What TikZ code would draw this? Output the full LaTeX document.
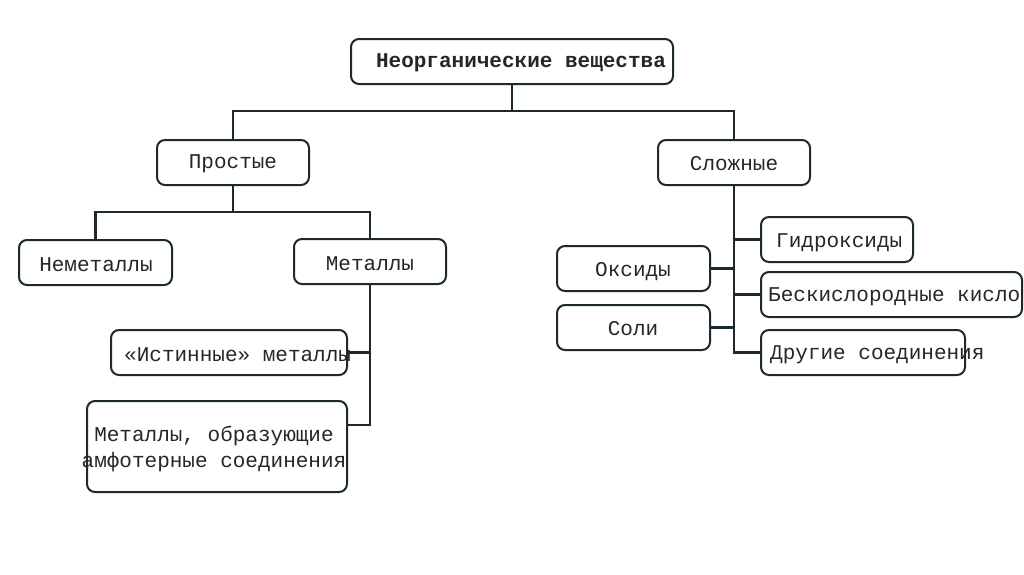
\documentclass[tikz,border=0pt]{standalone}
\usepackage{fontspec}
\setmainfont{Liberation Mono}
\definecolor{ln}{HTML}{1C2A30}
\tikzset{
 box/.style={draw=ln, line width=2pt, rounded corners=8pt, fill=white, anchor=north west, inner sep=0pt, outer sep=0pt},
 conn/.style={draw=ln, line width=2.2pt},
 lbl/.style={font=\fontsize{21}{26}\selectfont, text=black!85, inner sep=0pt, align=center},
}
\begin{document}
\begin{tikzpicture}[x=1pt,y=-1pt]
\useasboundingbox (0,0) rectangle (1024,574);
\fill[white] (0,0) rectangle (1024,574);
% boxes
\node[box, minimum width=322pt, minimum height=45pt] (t)  at (351,39)  {};
\node[box, minimum width=152pt, minimum height=45pt] (pr) at (157,140) {};
\node[box, minimum width=152pt, minimum height=45pt] (sl) at (658,140) {};
\node[box, minimum width=153pt, minimum height=45pt] (nm) at (19,240)  {};
\node[box, minimum width=152pt, minimum height=45pt] (me) at (294,239) {};
\node[box, minimum width=236pt, minimum height=45pt] (ist) at (111,330) {};
\node[box, minimum width=260pt, minimum height=91pt] (am) at (87,401)  {};
\node[box, minimum width=153pt, minimum height=45pt] (ok) at (557,246) {};
\node[box, minimum width=153pt, minimum height=45pt] (so) at (557,305) {};
\node[box, minimum width=152pt, minimum height=45pt] (gd) at (761,217) {};
\node[box, minimum width=261pt, minimum height=45pt] (bk) at (761,272) {};
\node[box, minimum width=204pt, minimum height=45pt] (dr) at (761,330) {};
% junctions
\path (t.south) ++(0,27) coordinate (j1);
\path (pr.south) ++(0,27) coordinate (j2);
\path (me.south) ++(0,141) coordinate (j3);
% connectors
\draw[conn] (t.south) -- (j1);
\draw[conn] (pr.north) |- (j1) -| (sl.north);
\draw[conn] (pr.south) -- (j2);
\draw[conn] (nm.north) |- (j2) -| (me.north);
\draw[conn] (me.south) |- (am.east |- j3);
\draw[conn] (sl.south) |- (dr.west);
\draw[conn] (gd.west) -- (gd.west -| sl.south);
\draw[conn] (bk.west) -- (bk.west -| sl.south);
\draw[conn] (ok.east) -- (ok.east -| sl.south);
\draw[conn] (so.east) -- (so.east -| sl.south);
% texts
\node[lbl, font=\fontsize{21}{26}\selectfont\bfseries] (tt) at (521,63) {Неорганические вещества};
\node[lbl] (prt) at (233,164) {Простые};
\node[lbl] (slt) at (734,164) {Сложные};
\node[lbl] (nmt) at (96,265) {Неметаллы};
\node[lbl] (met) at (370,264) {Металлы};
\node[lbl, anchor=west] (istt) at (124,355) {«Истинные» металлы};
\node[lbl] (amt) at (214,449) {Металлы, образующие\\амфотерные соединения};
\node[lbl] (okt) at (633,272) {Оксиды};
\node[lbl] (sot) at (633,329) {Соли};
\node[lbl, anchor=west] (gdt) at (776,243) {Гидроксиды};
\node[lbl, anchor=west] (bkt) at (768,297) {Бескислородные кисло};
\node[lbl, anchor=west] (drt) at (770,355) {Другие соединения};
\draw[conn] (ist.east) -- (ist.east -| me.south);
\end{tikzpicture}
\end{document}
